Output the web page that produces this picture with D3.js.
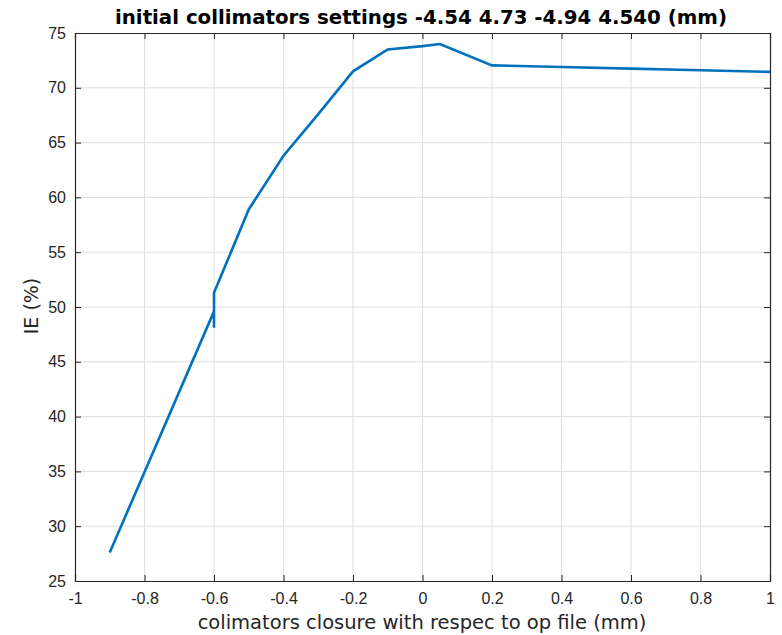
<!DOCTYPE html>
<html>
<head>
<meta charset="utf-8">
<script src="https://d3js.org/d3.v7.min.js"></script>
<style>
  body { margin: 0; background: #fff; }
  svg { font-family: "DejaVu Sans", sans-serif; }
  .grid line { stroke: #dfdfdf; stroke-width: 1; }
  .ax path, .ax line { stroke: #262626; }
  .ax text { fill: #262626; font-size: 16px; }
</style>
</head>
<body>
<svg id="chart" width="782" height="635"></svg>
<script>
// closure (mm) vs IE (%)
var closure = [-0.9, -0.6, -0.6, -0.6, -0.5, -0.4, -0.3, -0.2, -0.1, 0, 0.05, 0.2, 0.4, 0.6, 0.8, 1.0];
var ie      = [27.6, 49.6, 48.1, 51.3, 58.9, 63.8, 67.6, 71.5, 73.5, 73.8, 74.0, 72.05, 71.9, 71.75, 71.6, 71.45];
var xTicks = [-1, -0.8, -0.6, -0.4, -0.2, 0, 0.2, 0.4, 0.6, 0.8, 1];
var yTicks = [25, 30, 35, 40, 45, 50, 55, 60, 65, 70, 75];

var pL = 75, pR = 770, pT = 33, pB = 581;
var svg = d3.select("#chart");

var x = d3.scaleLinear().domain([-1, 1]).range([pL, pR]);
var y = d3.scaleLinear().domain([25, 75]).range([pB, pT]);

// grid
var g = svg.append("g").attr("class", "grid");
g.selectAll(".vx").data(xTicks.slice(1, -1)).enter().append("line")
  .attr("x1", d => x(d)).attr("x2", d => x(d)).attr("y1", pT).attr("y2", pB);
g.selectAll(".hy").data(yTicks.slice(1, -1)).enter().append("line")
  .attr("x1", pL).attr("x2", pR).attr("y1", d => y(d)).attr("y2", d => y(d));

// axes (box with inward ticks)
var fmt = d => String(d);
svg.append("g").attr("class", "ax").attr("transform", "translate(0," + pB + ")")
  .call(d3.axisBottom(x).tickValues(xTicks).tickFormat(fmt).tickSize(-6).tickPadding(12));
svg.append("g").attr("class", "ax").attr("transform", "translate(0," + pT + ")")
  .call(d3.axisTop(x).tickValues(xTicks).tickFormat("").tickSize(-6));
svg.append("g").attr("class", "ax").attr("transform", "translate(" + pL + ",0)")
  .call(d3.axisLeft(y).tickValues(yTicks).tickFormat(fmt).tickSize(-6).tickPadding(9));
svg.append("g").attr("class", "ax").attr("transform", "translate(" + pR + ",0)")
  .call(d3.axisRight(y).tickValues(yTicks).tickFormat("").tickSize(-6));
svg.selectAll(".ax .domain").attr("stroke-width", 1.2);

// data line
var pts = closure.map((c, i) => [c, ie[i]]);
svg.append("path")
  .datum(pts)
  .attr("fill", "none")
  .attr("stroke", "#0072BD")
  .attr("stroke-width", 2.6)
  .attr("d", d3.line().x(d => x(d[0])).y(d => y(d[1])));

// labels
svg.append("text").attr("x", 421).attr("y", 24).attr("text-anchor", "middle")
  .attr("font-size", "19.8px").attr("font-weight", "bold").attr("fill", "#000")
  .text("initial collimators settings -4.54 4.73 -4.94 4.540 (mm)");
svg.append("text").attr("x", 422).attr("y", 629).attr("text-anchor", "middle")
  .attr("font-size", "19.5px").attr("fill", "#262626")
  .text("colimators closure with respec to op file (mm)");
svg.append("text").attr("transform", "translate(38,306) rotate(-90)").attr("text-anchor", "middle")
  .attr("font-size", "19px").attr("fill", "#262626")
  .text("IE (%)");
</script>
</body>
</html>
